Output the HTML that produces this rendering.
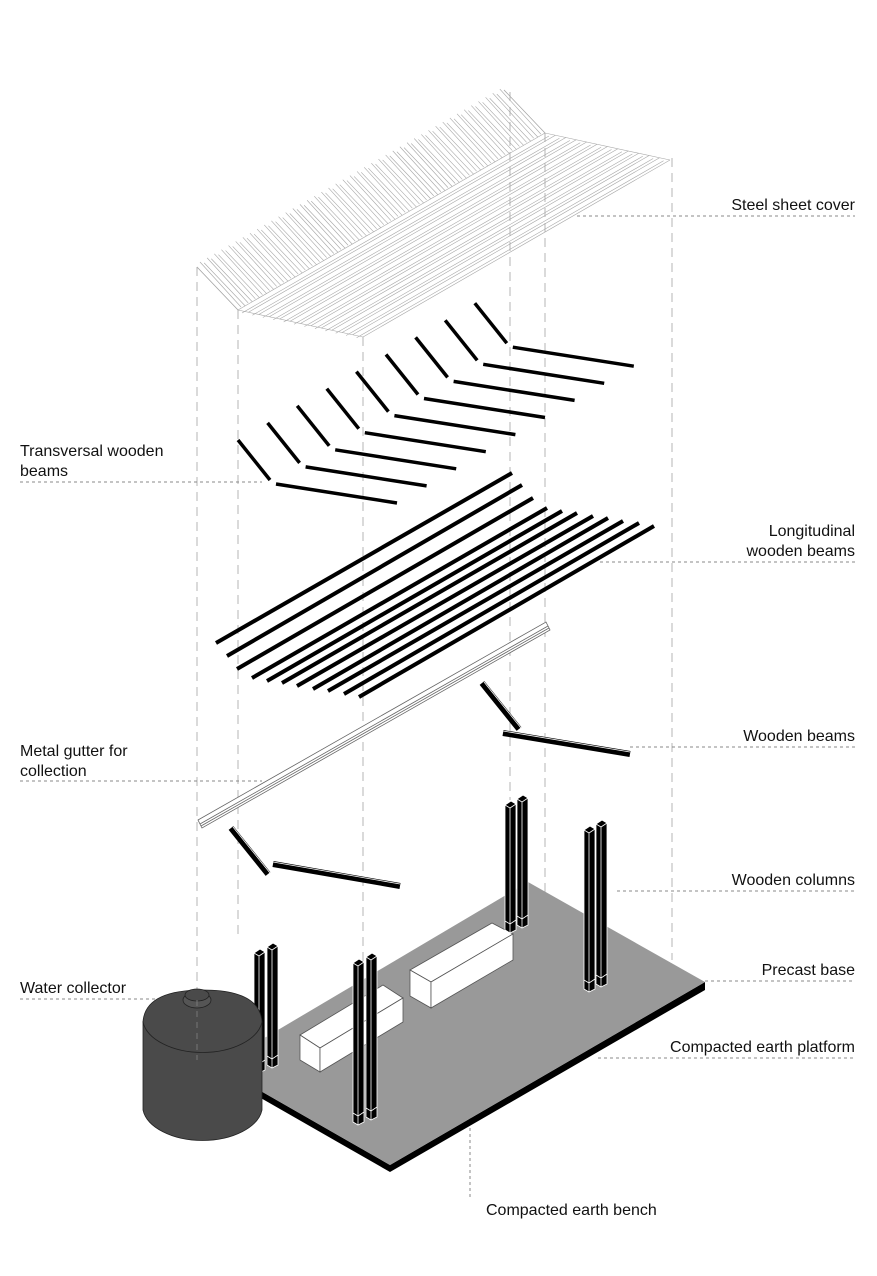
<!DOCTYPE html>
<html><head><meta charset="utf-8"><style>
html,body{margin:0;padding:0;background:#fff}
svg{display:block}
text{font-family:"Liberation Sans",sans-serif;font-size:16px;fill:#111}
</style></head><body>
<svg width="877" height="1276" viewBox="0 0 877 1276" xmlns="http://www.w3.org/2000/svg">
<g stroke="#b5b5b5" stroke-width="1" stroke-dasharray="9,6" fill="none">
<line x1="197" y1="267" x2="197" y2="990"/>
<line x1="238" y1="310" x2="238" y2="940"/>
<line x1="363" y1="337" x2="363" y2="1150"/>
<line x1="510" y1="92" x2="510" y2="800"/>
<line x1="545" y1="133" x2="545" y2="940"/>
<line x1="672" y1="158" x2="672" y2="960"/>
</g>
<g stroke="#888" stroke-width="1" stroke-dasharray="3,3" fill="none">
<line x1="577" y1="216" x2="855" y2="216"/>
<line x1="20" y1="482" x2="262" y2="482"/>
<line x1="600" y1="562" x2="855" y2="562"/>
<line x1="630" y1="747" x2="855" y2="747"/>
<line x1="20" y1="781" x2="262" y2="781"/>
<line x1="617" y1="891" x2="855" y2="891"/>
<line x1="603" y1="981" x2="855" y2="981"/>
<line x1="20" y1="999" x2="160" y2="999"/>
<line x1="598" y1="1058" x2="855" y2="1058"/>
<line x1="470" y1="990" x2="470" y2="1197"/>
</g>
<g id="roof" stroke="#a8a8a8" stroke-width="0.6" fill="none"></g>
<g id="trans" stroke="#000" stroke-width="3.5" stroke-linecap="butt"></g>
<g stroke="#000" stroke-width="4">
<line x1="216" y1="643" x2="512" y2="473"/>
<line x1="227" y1="656" x2="522" y2="485"/>
<line x1="237" y1="669" x2="533" y2="498"/>
<line x1="252" y1="678" x2="547" y2="508"/>
<line x1="267" y1="681" x2="562" y2="511"/>
<line x1="282" y1="683" x2="577" y2="513"/>
<line x1="297" y1="686" x2="593" y2="516"/>
<line x1="313" y1="689" x2="608" y2="518"/>
<line x1="328" y1="691" x2="623" y2="521"/>
<line x1="344" y1="694" x2="639" y2="523"/>
<line x1="359" y1="697" x2="654" y2="526"/>
</g>
<g stroke="#666" stroke-width="0.8" fill="#fff">
<polygon points="198,820 546,622 550,630 202,828"/>
<line x1="200" y1="824" x2="548" y2="626"/>
<line x1="201" y1="826" x2="549" y2="628"/>
</g>
<g stroke="#000" stroke-width="6">
<line x1="482" y1="683" x2="519" y2="729"/>
<line x1="503" y1="733" x2="630" y2="754"/>
<line x1="231" y1="828" x2="268" y2="874"/>
<line x1="273" y1="864" x2="400" y2="886"/>
</g>
<g stroke="#fff" stroke-width="0.8">
<line x1="484" y1="682" x2="521" y2="728"/>
<line x1="503" y1="731" x2="630" y2="752"/>
<line x1="233" y1="827" x2="270" y2="873"/>
<line x1="273" y1="862" x2="400" y2="884"/>
</g>
<polygon points="705,982 705,990 390,1172 217,1073 217,1066 390,1165" fill="#000"/>
<polygon points="528,882 705,982 390,1165 217,1066" fill="#999"/>
<g fill="#fff" stroke="#555" stroke-width="0.8">
<polygon points="300,1035 383,985 403,998 320,1048"/>
<polygon points="300,1035 320,1048 320,1072 300,1060"/>
<polygon points="320,1048 403,998 403,1022 320,1072"/>
<polygon points="410,970 492,923 513,934 431,982"/>
<polygon points="410,970 431,982 431,1008 410,996"/>
<polygon points="431,982 513,934 513,960 431,1008"/>
</g>
<g id="cols"></g>
<g stroke="#222" stroke-width="0.8">
<path d="M143,1022 L143,1110 A60,35 0 0 0 262,1110 L262,1022 A60,35 0 0 0 143,1022 Z" fill="#4a4a4a"/>
<path d="M143,1022 Q145,990 203,990 Q260,990 262,1022" fill="#4a4a4a"/>
<path d="M143,1022 A60,35 0 0 0 262,1022" fill="none"/>
<ellipse cx="197" cy="1000" rx="14" ry="8" fill="#555"/>
<ellipse cx="197" cy="995" rx="12" ry="6" fill="#4a4a4a"/>
</g>
<line x1="197" y1="1000" x2="197" y2="1060" stroke="#777" stroke-dasharray="6,5"/>
<text x="855" y="210" text-anchor="end">Steel sheet cover</text>
<text x="20" y="456">Transversal wooden</text>
<text x="20" y="476">beams</text>
<text x="855" y="536" text-anchor="end">Longitudinal</text>
<text x="855" y="556" text-anchor="end">wooden beams</text>
<text x="855" y="741" text-anchor="end">Wooden beams</text>
<text x="20" y="756">Metal gutter for</text>
<text x="20" y="776">collection</text>
<text x="855" y="885" text-anchor="end">Wooden columns</text>
<text x="855" y="975" text-anchor="end">Precast base</text>
<text x="20" y="993">Water collector</text>
<text x="855" y="1052" text-anchor="end">Compacted earth platform</text>
<text x="486" y="1215">Compacted earth bench</text>
</svg>
<script>
var NS="http://www.w3.org/2000/svg";
function L(g,x1,y1,x2,y2){var l=document.createElementNS(NS,"line");l.setAttribute("x1",x1);l.setAttribute("y1",y1);l.setAttribute("x2",x2);l.setAttribute("y2",y2);g.appendChild(l);}
var r=document.getElementById("roof");
var A=[197,267],B=[238,310],C=[363,337],V=[307,-177];
var n=43;
for(var i=0;i<=n;i++){var t=i/n;var dx=V[0]*t,dy=V[1]*t;
L(r,A[0]+dx,A[1]+dy,B[0]+dx,B[1]+dy);
if(i<n){L(r,A[0]+dx+3,A[1]+dy-5,B[0]+dx+3,B[1]+dy-3);}}
for(var j=0;j<=12;j++){var t=j/12;var x=B[0]+(C[0]-B[0])*t,y=B[1]+(C[1]-B[1])*t;
L(r,x,y,x+V[0],y+V[1]);if(j<12)L(r,x+4,y+3,x+4+V[0],y+3+V[1]);}
L(r,A[0],A[1],B[0],B[1]);L(r,B[0],B[1],C[0],C[1]);
L(r,A[0]+V[0],A[1]+V[1],B[0]+V[0],B[1]+V[1]);L(r,B[0]+V[0],B[1]+V[1],C[0]+V[0],C[1]+V[1]);
var tg=document.getElementById("trans");
for(var k=0;k<9;k++){var ox=k*29.6,oy=-k*17.1;
L(tg,238+ox,440+oy,270+ox,480+oy);L(tg,276+ox,484+oy,397+ox,503+oy);}
var cg=document.getElementById("cols");
function bar(x,top,bot){
var g=document.createElementNS(NS,"g");
var p=document.createElementNS(NS,"polygon");
p.setAttribute("points",x+","+(top+4)+" "+(x+6)+","+top+" "+(x+11)+","+(top+3)+" "+(x+11)+","+(bot-3)+" "+(x+5)+","+bot+" "+x+","+(bot-3));
p.setAttribute("fill","#000");p.setAttribute("stroke","#fff");p.setAttribute("stroke-width","0.8");g.appendChild(p);
g.setAttribute("stroke","#fff");g.setAttribute("stroke-width","0.8");
L(g,x+5,top+7,x+5,bot);L(g,x,top+4,x+5,top+7);L(g,x+5,top+7,x+11,top+3);
L(g,x,bot-12,x+5,bot-9);L(g,x+5,bot-9,x+11,bot-13);
cg.appendChild(g);}
function pair(x1,x2,top,bot){bar(x2-11,top,bot-5);bar(x1,top+6,bot);}
pair(254,278,943,1073);pair(353,377,953,1125);pair(505,528,795,933);pair(584,607,820,992);
</script>
</body></html>
